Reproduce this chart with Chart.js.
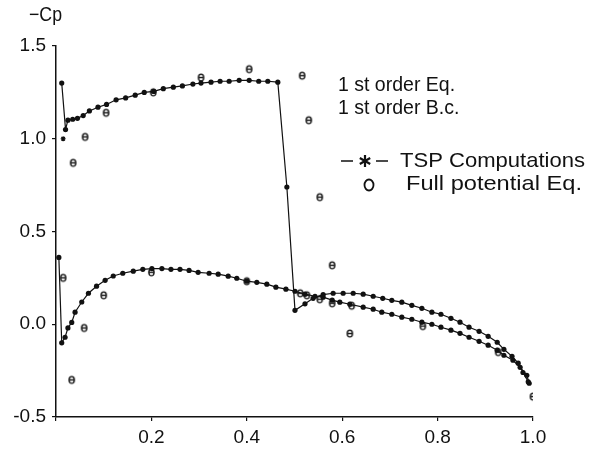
<!DOCTYPE html>
<html>
<head>
<meta charset="utf-8">
<script src="https://cdn.jsdelivr.net/npm/chart.js@4.4.0/dist/chart.umd.min.js"></script>
<style>
  html, body { margin: 0; padding: 0; background: #fff; }
  canvas { display: block; }
</style>
</head>
<body>
<canvas id="cp-chart" width="589" height="453"></canvas>
<script>
// TSP computations, upper surface (x/c, -Cp)
const upperX = [0.012, 0.020, 0.025, 0.035, 0.045, 0.057, 0.070, 0.088, 0.106, 0.126, 0.146, 0.166, 0.185, 0.205,
  0.225, 0.246, 0.265, 0.287, 0.304, 0.325, 0.344, 0.363, 0.384, 0.405, 0.425, 0.444, 0.465, 0.484, 0.501,
  0.522, 0.539, 0.560, 0.581, 0.602, 0.623, 0.644, 0.665, 0.685, 0.704, 0.725, 0.746, 0.767, 0.788, 0.807,
  0.828, 0.847, 0.866, 0.887, 0.906, 0.925, 0.939, 0.956, 0.969, 0.979, 0.990];
const upperCp = [1.30, 1.05, 1.10, 1.105, 1.11, 1.125, 1.15, 1.17, 1.185, 1.21, 1.22, 1.235, 1.25, 1.255,
  1.27, 1.278, 1.285, 1.295, 1.30, 1.305, 1.31, 1.31, 1.315, 1.315, 1.31, 1.31, 1.305, 0.74, 0.075,
  0.11, 0.14, 0.16, 0.167, 0.167, 0.167, 0.162, 0.151, 0.14, 0.129, 0.119, 0.102, 0.086, 0.065, 0.054,
  0.032, 0.011, -0.016, -0.038, -0.065, -0.097, -0.135, -0.173, -0.21, -0.26, -0.31];

// TSP computations, lower surface
const lowerX = [0.006, 0.012, 0.019, 0.025, 0.033, 0.040, 0.054, 0.068, 0.085, 0.103, 0.120, 0.140, 0.162, 0.182,
  0.201, 0.222, 0.241, 0.260, 0.279, 0.298, 0.321, 0.340, 0.361, 0.379, 0.400, 0.421, 0.442, 0.461, 0.482,
  0.501, 0.522, 0.543, 0.560, 0.579, 0.595, 0.616, 0.644, 0.665, 0.683, 0.704, 0.725, 0.746, 0.767, 0.788,
  0.807, 0.828, 0.847, 0.866, 0.887, 0.906, 0.925, 0.939, 0.958, 0.973, 0.987, 0.992];
const lowerCp = [0.36, -0.10, -0.07, -0.02, 0.01, 0.065, 0.12, 0.167, 0.205, 0.237, 0.26, 0.275, 0.286, 0.296,
  0.30, 0.30, 0.296, 0.296, 0.29, 0.28, 0.275, 0.27, 0.259, 0.248, 0.232, 0.226, 0.216, 0.20, 0.189,
  0.178, 0.162, 0.151, 0.146, 0.13, 0.119, 0.108, 0.092, 0.081, 0.065, 0.054, 0.038, 0.027, 0.011, 0.0,
  -0.016, -0.032, -0.049, -0.07, -0.092, -0.113, -0.14, -0.167, -0.194, -0.232, -0.275, -0.318];

// Full potential equation results
const fullX = [0.036, 0.061, 0.105, 0.204, 0.304, 0.405, 0.516, 0.530, 0.553, 0.579, 0.616,
  0.015, 0.033, 0.059, 0.100, 0.200, 0.400, 0.512, 0.526, 0.553, 0.579, 0.620, 0.769, 0.927, 1.000];
const fullCp = [0.87, 1.01, 1.14, 1.25, 1.33, 1.375, 1.34, 1.10, 0.685, 0.318, -0.05,
  0.25, -0.30, -0.02, 0.156, 0.28, 0.232, 0.167, 0.156, 0.135, 0.113, 0.10, -0.01, -0.15, -0.39];

// stray leading-edge mark
const leX = [0.015];
const leCp = [1.0];

const yTicks = [-0.5, 0.0, 0.5, 1.0, 1.5];
const xTicks = [0.2, 0.4, 0.6, 0.8, 1.0];

const legendLines = ["1 st order Eq.", "1 st order B.c."];
const tspLabel = "TSP Computations";
const fullLabel = "Full potential Eq.";

const FONT = "'Liberation Sans', Arial, Helvetica, sans-serif";

function pairs(xs, ys) {
  return xs.map((x, i) => ({ x: x, y: ys[i] }));
}

// little "o" marker like the typed symbol in the figure
function makeOMarker() {
  const c = document.createElement("canvas");
  c.width = 9;
  c.height = 11;
  const g = c.getContext("2d");
  g.strokeStyle = "#111";
  g.lineWidth = 1.4;
  g.beginPath();
  g.ellipse(4.5, 5.5, 2.6, 3.4, 0, 0, Math.PI * 2);
  g.stroke();
  g.beginPath();
  g.moveTo(2.2, 5.5);
  g.lineTo(6.8, 5.5);
  g.stroke();
  return c;
}
const oMarker = makeOMarker();

function drawStar(ctx, x, y, r) {
  ctx.beginPath();
  for (let k = 0; k < 3; k++) {
    const a = Math.PI / 2 + k * Math.PI / 3;
    ctx.moveTo(x - r * Math.cos(a), y - r * Math.sin(a));
    ctx.lineTo(x + r * Math.cos(a), y + r * Math.sin(a));
  }
  ctx.stroke();
}

// the typed lettering is a bit wider than the font, stretch it to the measured width
function fitText(ctx, text, x, y, width) {
  const w = ctx.measureText(text).width;
  ctx.save();
  ctx.translate(x, y);
  ctx.scale(width / w, 1);
  ctx.fillText(text, 0, 0);
  ctx.restore();
}

// text annotations: axis name and the typed legend block
const notesPlugin = {
  id: "notes",
  afterDraw(chart) {
    const ctx = chart.ctx;
    const area = chart.chartArea;
    ctx.save();
    ctx.fillStyle = "#111";
    ctx.strokeStyle = "#111";
    ctx.textBaseline = "middle";
    ctx.textAlign = "left";

    ctx.font = "20px " + FONT;
    fitText(ctx, "\u2212Cp", area.left - 27, area.top - 31, 33);

    const lx = area.left + 282;
    ctx.font = "19.5px " + FONT;
    ctx.fillText(legendLines[0], lx, 86);
    ctx.fillText(legendLines[1], lx, 109);

    ctx.font = "21px " + FONT;
    const ty = 161;
    ctx.lineWidth = 1.3;
    ctx.beginPath();
    ctx.moveTo(lx + 3, ty);
    ctx.lineTo(lx + 15, ty);
    ctx.moveTo(lx + 38, ty);
    ctx.lineTo(lx + 50, ty);
    ctx.stroke();
    ctx.lineWidth = 2.2;
    drawStar(ctx, lx + 27, ty, 6);
    fitText(ctx, tspLabel, lx + 62, ty, 185);

    const fy = 184;
    ctx.lineWidth = 1.8;
    ctx.beginPath();
    ctx.ellipse(lx + 31, fy + 1, 4.5, 5.5, 0, 0, Math.PI * 2);
    ctx.stroke();
    fitText(ctx, fullLabel, lx + 68, fy, 176);
    ctx.restore();
  }
};

const ctx = document.getElementById("cp-chart").getContext("2d");

new Chart(ctx, {
  type: "line",
  data: {
    datasets: [
      {
        label: "TSP upper",
        data: pairs(upperX, upperCp),
        borderColor: "#111",
        backgroundColor: "#111",
        borderWidth: 1.2,
        pointRadius: 2.6,
        pointBorderWidth: 0,
        tension: 0,
        fill: false,
      },
      {
        label: "TSP lower",
        data: pairs(lowerX, lowerCp),
        borderColor: "#111",
        backgroundColor: "#111",
        borderWidth: 1.2,
        pointRadius: 2.6,
        pointBorderWidth: 0,
        tension: 0,
        fill: false,
      },
      {
        label: "Full potential",
        data: pairs(fullX, fullCp),
        showLine: false,
        pointStyle: oMarker,
        pointRadius: 4,
      },
      {
        label: "LE",
        data: pairs(leX, leCp),
        showLine: false,
        pointStyle: "star",
        pointRadius: 2.5,
        borderColor: "#111",
        pointBorderWidth: 1.2,
      },
    ],
  },
  options: {
    responsive: false,
    animation: false,
    layout: { padding: { top: 46, right: 56, left: 0, bottom: 0 } },
    plugins: {
      legend: { display: false },
      tooltip: { enabled: false },
    },
    scales: {
      x: {
        type: "linear",
        min: 0,
        max: 1,
        afterFit: (scale) => { scale.height = 36; },
        afterBuildTicks: (scale) => {
          scale.ticks = [0].concat(xTicks).map((v) => ({ value: v }));
        },
        ticks: {
          color: "#111",
          font: { family: FONT, size: 19 },
          padding: 5,
          maxRotation: 0,
          callback: (v) => (v === 0 ? "" : v.toFixed(1)),
        },
        grid: { drawOnChartArea: false, tickLength: 4, color: "#111", lineWidth: 1.2 },
        border: { color: "#111", width: 1.5 },
      },
      y: {
        type: "linear",
        min: -0.5,
        max: 1.5,
        afterFit: (scale) => { scale.width = 56; },
        afterBuildTicks: (scale) => {
          scale.ticks = yTicks.map((v) => ({ value: v }));
        },
        ticks: {
          color: "#111",
          font: { family: FONT, size: 19 },
          padding: 6,
          callback: (v) => v.toFixed(1),
        },
        grid: { drawOnChartArea: false, tickLength: 4, color: "#111", lineWidth: 1.2 },
        border: { color: "#111", width: 1.5 },
      },
    },
  },
  plugins: [notesPlugin],
});
</script>
</body>
</html>
